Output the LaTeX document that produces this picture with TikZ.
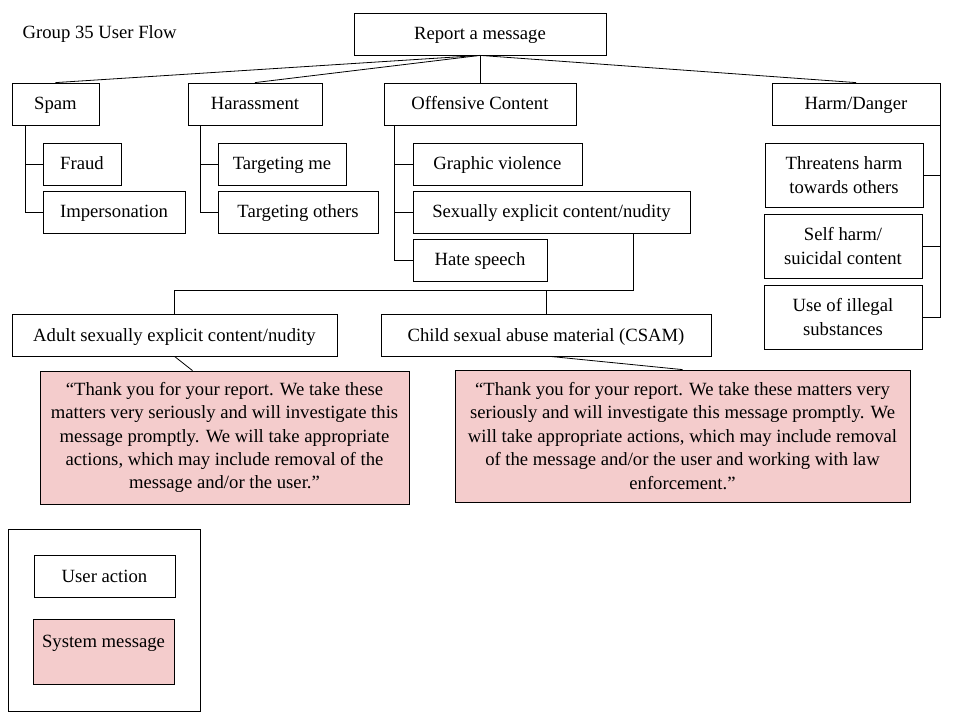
\documentclass[tikz,border=0pt]{standalone}
\usepackage{fontspec}
\setmainfont{Liberation Serif}
\usetikzlibrary{
    positioning,
    calc
}
\definecolor{msgpink}{HTML}{F4CCCC}
\tikzset {
    box/.style = {draw, line width = 0.6pt, inner sep = 0pt, align = center,
        minimum height = 31.5pt, text height = 11.5pt, text depth = 2.5pt},
    multi/.style = {text height = {}, text depth = {}},
    tallbox/.style = {box, multi, minimum height = 48pt, minimum width = 118.5pt},
    sysmsg/.style = {box, multi, fill = msgpink},
    link/.style = {line width = 0.6pt}
}

\begin{document}
\begin{tikzpicture}[x = 0.75pt, y = -0.75pt, font = \fontsize{14}{17.6}\selectfont]
            \useasboundingbox (0, 0) rectangle (960, 720);
            \node (title) [anchor = west, text height = 11.5pt, text depth = 2.5pt] at (18, 33) {Group 35 User Flow};
            % top level
            \node (report) [box, minimum width = 189pt] at (480, 34) {Report a message};
            \node (spam) [box, minimum width = 65.25pt] at (55.5, 104) {Spam};
            \node (harass) [box, minimum width = 100.5pt] at (255, 104) {Harassment};
            \node (offend) [box, minimum width = 144pt] at (480, 104) {Offensive Content};
            \node (harm) [box, minimum width = 126pt] at (856, 104) {Harm/Danger};
            \foreach \kid in {spam, harass, offend, harm}
                \draw [link] (report.south) -- (\kid.north);
            % spam
            \node (fraud) [box, minimum width = 58.5pt] at (82, 164) {Fraud};
            \node (imperson) [box, minimum width = 106.5pt] at (114, 212) {Impersonation};
            \draw [link] (spam.south west) ++(14, 0) |- (imperson.west);
            \draw [link] (fraud.west) -- ++(-17, 0);
            % harassment
            \node (targetme) [box, minimum width = 96pt] at (282, 164) {Targeting me};
            \node (targetothers) [box, minimum width = 120pt] at (298, 212) {Targeting others};
            \draw [link] (harass.south west) ++(13, 0) |- (targetothers.west);
            \draw [link] (targetme.west) -- ++(-17, 0);
            % offensive content
            \node (graphic) [box, minimum width = 126.75pt] at (497.5, 164) {Graphic violence};
            \node (sexual) [box, minimum width = 207.75pt] at (551.5, 212) {Sexually explicit content/nudity};
            \node (hate) [box, minimum width = 100.5pt] at (480, 260) {Hate speech};
            \draw [link] (offend.south west) ++(11, 0) |- (hate.west);
            \draw [link] (graphic.west) -- ++(-18, 0);
            \draw [link] (sexual.west) -- ++(-18, 0);
            % harm/danger
            \node (threat) [tallbox] at (844, 175) {Threatens harm\\towards others};
            \node (selfharm) [tallbox] at (843, 246) {Self harm/\\suicidal content};
            \node (illegal) [tallbox] at (843, 317) {Use of illegal\\substances};
            \draw [link] (harm.south east) |- (illegal.east);
            \draw [link] (threat.east) -- (threat.east -| harm.east);
            \draw [link] (selfharm.east) -- (selfharm.east -| harm.east);
            % sexual content split
            \node (adult) [box, minimum width = 243.75pt] at (174.5, 335) {Adult sexually explicit content/nudity};
            \node (csam) [box, minimum width = 247.5pt] at (546, 335) {Child sexual abuse material (CSAM)};
            \coordinate (fork) at (633, 290);
            \draw [link] (sexual.south -| fork) -- (fork) -| (adult.north);
            \draw [link] (csam.north) -- (csam.north |- fork);
            % system messages
            \node (msga) [sysmsg, minimum width = 276.75pt, minimum height = 99.75pt] at (224.5, 437.5)
                {``Thank you for your report. We take these\\matters very seriously and will investigate this\\message promptly. We will take appropriate\\actions, which may include removal of the\\message and/or the user.''};
            \node (msgb) [sysmsg, minimum width = 341.25pt, minimum height = 99pt] at (682.5, 436)
                {``Thank you for your report. We take these matters very\\seriously and will investigate this message promptly. We\\will take appropriate actions, which may include removal\\of the message and/or the user and working with law\\enforcement.''};
            \draw [link] (adult.south) -- ($(msga.north) + (-32, 0)$);
            \draw [link] ($(csam.south) + (4, 0)$) -- (msgb.north);
            % legend
            \node (legend) [box, minimum width = 144pt, minimum height = 136.5pt] at (104, 620) {};
            \node (useraction) [box, minimum width = 105.75pt] at (104.5, 576) {User action};
            \node (sysentry) [sysmsg, minimum width = 105.75pt, minimum height = 48.75pt] at (103.5, 651.5) {System message\\[-3pt]\mbox{}};
        \end{tikzpicture}
\end{document}
